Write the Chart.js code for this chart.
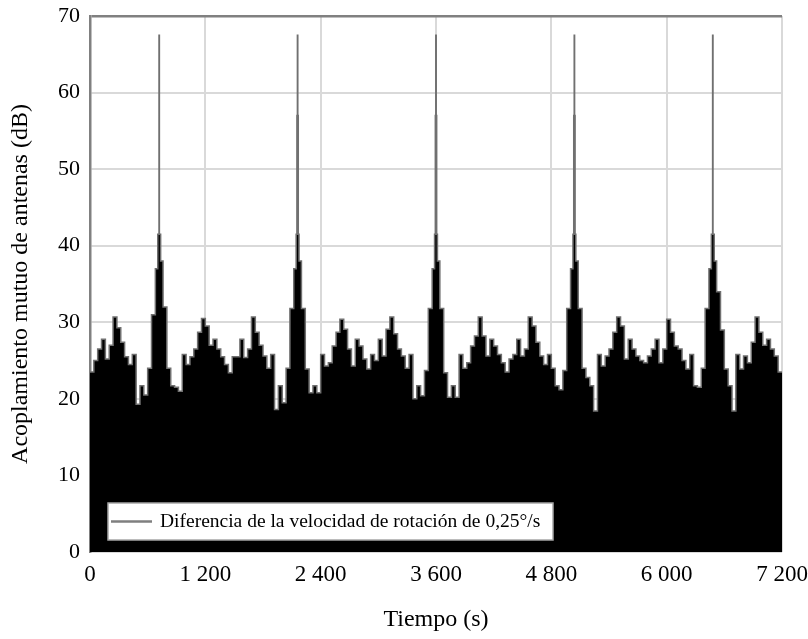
<!DOCTYPE html>
<html>
<head>
<meta charset="utf-8">
<script src="https://cdn.jsdelivr.net/npm/chart.js@4.4.0/dist/chart.umd.min.js"></script>
<style>
  html, body { margin: 0; padding: 0; background: #fff; }
</style>
</head>
<body>
<canvas id="acoplamiento-antenas" width="808" height="639"></canvas>
<script>
// valores, un bloque por cada vuelta de 1440 s (pasos de 40 s)
const periodo1 = [23.5, 25, 26.5, 27.8, 25.2, 27, 30.7, 29.3, 27.4, 25.5, 24.5, 25.8, 19.3, 21.7, 20.5, 24, 31, 37, 38, 32, 24, 21.7, 21.5, 21, 25.8, 24.5, 25.5, 26.5, 28.7, 30.5, 29.5, 27, 27.8, 26.5, 25.5, 24.5];
const periodo2 = [23.4, 25.5, 25.5, 27.8, 25.4, 26.5, 30.7, 28.7, 27, 25.6, 24, 25.8, 18.6, 21.7, 19.5, 24, 31.8, 37, 38, 31.8, 23.9, 20.8, 21.7, 20.8, 25.8, 24.3, 24.7, 26.9, 28.7, 30.4, 29.1, 26.5, 24.3, 27.8, 26.9, 25.2];
const periodo3 = [23.9, 25.8, 25, 27.8, 25.6, 29.1, 30.7, 28.5, 26.5, 25.6, 24, 25.8, 20, 21.7, 20.4, 23.7, 31.8, 37, 38, 31.8, 23.4, 20.2, 21.7, 20.2, 25.8, 24, 24.7, 26.9, 28.2, 30.7, 28.2, 25.6, 27.8, 26.9, 25.8, 24.7];
const periodo4 = [23.5, 25.2, 25.8, 27.8, 25.6, 26.5, 30.7, 29.5, 27.4, 25.6, 24.5, 25.8, 24, 21.7, 21.2, 23.7, 31.8, 37, 38, 31.8, 24, 22.8, 21.7, 18.4, 25.8, 24.3, 25.6, 26.5, 28.7, 30.7, 29.5, 25.2, 27.8, 26.5, 25.6, 25];
const periodo5 = [24.7, 25.6, 26.5, 27.8, 24.7, 26.5, 30.4, 28.7, 26.9, 26.5, 25, 23.9, 25.8, 21.7, 21.5, 24, 31.8, 37, 38, 34, 29, 23.9, 21.7, 18.4, 25.8, 23.9, 25.6, 24.7, 27.4, 30.7, 28.7, 27, 27.8, 26.5, 25.6, 23.5];
const pasoTiempo = 40;
const tiempoFinal = 7200;

// picos de acoplamiento (uno por vuelta)
const picoTiempo = [720, 2160, 3600, 5040, 6480];
const picoMaximo = [67.5, 67.5, 67.5, 67.5, 67.5];
const picoMedio = [41.5, 57, 57, 57, 41.5];
const picoBase = [41.5, 41.5, 41.5, 41.5, 41.5];

const etiquetasX = ['0', '1 200', '2 400', '3 600', '4 800', '6 000', '7 200'];
const etiquetasY = ['0', '10', '20', '30', '40', '50', '60', '70'];

const acoplamiento = [].concat(periodo1, periodo2, periodo3, periodo4, periodo5);

let puntos = acoplamiento.map((valor, i) => ({ x: i * pasoTiempo, y: valor }));
puntos.push({ x: tiempoFinal, y: acoplamiento[acoplamiento.length - 1] });
// se quitan los pasos que caen dentro de un pico y se meten los puntos del pico
puntos = puntos.filter((p) => !picoTiempo.some((t) => Math.abs(p.x - t) <= 15));
picoTiempo.forEach((t, k) => {
  const despues = acoplamiento[Math.floor((t + 15) / pasoTiempo)];
  puntos.push(
    { x: t - 15, y: picoBase[k] },
    { x: t - 7, y: picoMedio[k] },
    { x: t - 2, y: picoMaximo[k] },
    { x: t + 2, y: picoMedio[k] },
    { x: t + 7, y: picoBase[k] },
    { x: t + 15, y: despues }
  );
});
puntos.sort((a, b) => a.x - b.x);

const fuente = "'Liberation Serif', 'Times New Roman', serif";

// recuadro de leyenda dentro del area del grafico
const leyendaRecuadro = {
  id: 'leyendaRecuadro',
  afterDraw(chart) {
    const ctx = chart.ctx;
    const area = chart.chartArea;
    const x = area.left + 18;
    const y = area.bottom - 49;
    const w = 445;
    const h = 37;
    ctx.save();
    ctx.fillStyle = '#fff';
    ctx.fillRect(x, y, w, h);
    ctx.strokeStyle = '#a6a6a6';
    ctx.lineWidth = 1.5;
    ctx.strokeRect(x, y, w, h);
    ctx.strokeStyle = '#7f7f7f';
    ctx.lineWidth = 2.5;
    ctx.beginPath();
    ctx.moveTo(x + 3, y + 18.5);
    ctx.lineTo(x + 44, y + 18.5);
    ctx.stroke();
    ctx.fillStyle = '#000';
    ctx.font = '19.5px ' + fuente;
    ctx.textBaseline = 'middle';
    ctx.fillText(chart.data.datasets[0].label, x + 52, y + 19);
    ctx.restore();
  }
};

var graficoAcoplamiento = document.querySelector('#acoplamiento-antenas').getContext('2d');

new Chart(graficoAcoplamiento, {
  type: 'line',
  data: {
    datasets: [
      {
        label: 'Diferencia de la velocidad de rotación de 0,25°/s',
        data: puntos,
        stepped: 'before',
        fill: 'origin',
        backgroundColor: '#000',
        borderColor: '#707070',
        borderWidth: 1.5,
        pointRadius: 0,
        tension: 0,
      }
    ]
  },
  options: {
    responsive: false,
    animation: false,
    layout: { padding: { top: 16, right: 26, left: 0, bottom: 0 } },
    plugins: {
      legend: { display: false },
      tooltip: { enabled: false }
    },
    scales: {
      x: {
        type: 'linear',
        min: 0,
        max: tiempoFinal,
        afterFit(scale) {
          scale.height = 87;
          scale.paddingLeft = 0;
          scale.paddingRight = 0;
        },
        ticks: {
          stepSize: 1200,
          padding: 9,
          color: '#000',
          maxRotation: 0,
          autoSkip: false,
          font: { family: fuente, size: 23 },
          callback: (v, i) => etiquetasX[i]
        },
        grid: {
          color: (c) => (c.tick && c.tick.value === 0 ? 'rgba(0,0,0,0)' : '#d9d9d9'),
          lineWidth: 2,
          drawTicks: false
        },
        border: { display: false },
        title: {
          display: true,
          text: 'Tiempo (s)',
          color: '#000',
          font: { family: fuente, size: 24 },
          padding: { top: 0, bottom: 5 }
        }
      },
      y: {
        min: 0,
        max: 70,
        afterFit(scale) {
          scale.width = 90;
          scale.paddingTop = 0;
          scale.paddingBottom = 0;
        },
        ticks: {
          stepSize: 10,
          padding: 10,
          color: '#000',
          font: { family: fuente, size: 22 },
          callback: (v, i) => etiquetasY[i]
        },
        grid: {
          color: (c) => (c.tick && c.tick.value === 70 ? '#808080' : '#d9d9d9'),
          lineWidth: (c) => (c.tick && c.tick.value === 70 ? 2.5 : 2),
          drawTicks: false
        },
        border: { display: true, color: '#808080', width: 2.5 },
        title: {
          display: true,
          text: 'Acoplamiento mutuo de antenas (dB)',
          color: '#000',
          font: { family: fuente, size: 24 },
          padding: { top: 6, bottom: 0 }
        }
      }
    }
  },
  plugins: [leyendaRecuadro]
});
</script>
</body>
</html>
